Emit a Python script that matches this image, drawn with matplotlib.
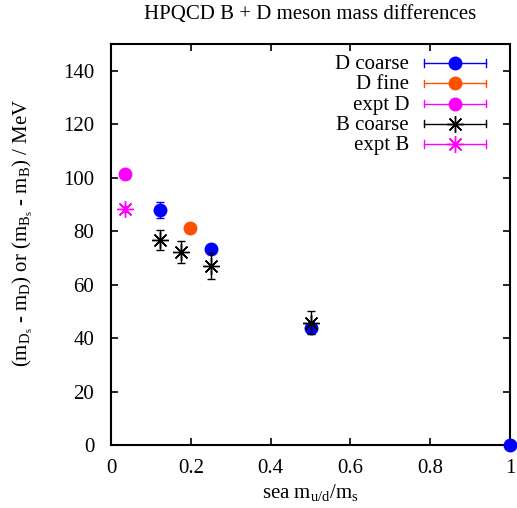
import matplotlib
matplotlib.use('Agg')
import matplotlib.pyplot as plt

plt.rcParams['font.family'] = ['Liberation Serif', 'DejaVu Serif']
plt.rcParams['mathtext.fontset'] = 'custom'
plt.rcParams['mathtext.rm'] = 'Liberation Serif'
plt.rcParams['mathtext.it'] = 'Liberation Serif:italic'

# data
d_coarse_x = [0.123, 0.25, 0.5, 1.0]
d_coarse_y = [88.0, 73.4, 43.8, 0.0]
d_coarse_err = [3.0, 1.2, 1.2, 0.0]

d_fine_x = [0.198]
d_fine_y = [81.2]
d_fine_err = [0.5]

expt_d_x = [0.035]
expt_d_y = [101.4]
expt_d_err = [0.3]

b_coarse_x = [0.123, 0.175, 0.25, 0.5]
b_coarse_y = [76.7, 72.3, 67.0, 45.7]
b_coarse_err = [3.7, 4.0, 4.7, 4.3]

expt_b_x = [0.035]
expt_b_y = [88.4]
expt_b_err = [1.2]

fig = plt.figure(figsize=(5.17, 5.08), dpi=100)
ax = fig.add_axes([0.2147, 0.124, 0.7718, 0.789])

star = (8, 2, 0)
FS = 15

series = [
    ('D coarse', d_coarse_x, d_coarse_y, d_coarse_err, '#0000ff', 'o'),
    ('D fine', d_fine_x, d_fine_y, d_fine_err, '#ff5000', 'o'),
    ('expt D', expt_d_x, expt_d_y, expt_d_err, '#ff00ff', 'o'),
    ('B coarse', b_coarse_x, b_coarse_y, b_coarse_err, 'black', star),
    ('expt B', expt_b_x, expt_b_y, expt_b_err, '#ff00ff', star),
]

for i, (name, x, y, err, col, mk) in enumerate(series):
    if mk == 'o':
        ms, mew = 9, 1
    else:
        ms, mew = 12, 1
    ax.errorbar(x, y, yerr=err, fmt='none', color=col, capsize=3, elinewidth=1,
                zorder=3 + i)
    ax.plot(x, y, ls='none', marker=mk, color=col, ms=ms, mew=mew, clip_on=False,
            zorder=3 + i)
    # legend entry, gnuplot style
    ly = 0.953 - 0.0505 * i
    ax.text(0.747, ly - 0.004, name, transform=ax.transAxes, ha='right', va='center',
            fontsize=FS)
    ax.plot([0.784, 0.940], [ly, ly], transform=ax.transAxes, color=col, lw=1, clip_on=False)
    ax.plot([0.784, 0.784], [ly - 0.009, ly + 0.009], transform=ax.transAxes, color=col, lw=1)
    ax.plot([0.940, 0.940], [ly - 0.009, ly + 0.009], transform=ax.transAxes, color=col, lw=1)
    ax.plot([0.862], [ly], transform=ax.transAxes, marker=mk, color=col, ms=ms, mew=mew)

ax.set_xlim(0, 1)
ax.set_ylim(0, 150)
ax.set_xticks([0, 0.2, 0.4, 0.6, 0.8, 1])
ax.set_xticklabels(['0', '0.2', '0.4', '0.6', '0.8', '1'])
ax.set_yticks(range(0, 141, 20))
ax.tick_params(direction='in', top=True, right=True, length=5, width=1.2, labelsize=FS)
ax.tick_params(axis='x', pad=10)
ax.tick_params(axis='y', pad=12)
for s in ax.spines.values():
    s.set_linewidth(1.5)

ax.set_xlabel(r'sea m$_{\mathrm{u/d}}$/m$_\mathrm{s}$', fontsize=FS, labelpad=3)
ax.set_ylabel(r'(m$_{\mathrm{D_s}}$ - m$_\mathrm{D}$) or (m$_{\mathrm{B_s}}$ - m$_\mathrm{B}$) / MeV',
              fontsize=FS)
ax.yaxis.set_label_coords(-0.19, 0.53)
fig.text(0.6, 0.972, 'HPQCD B + D meson mass differences', fontsize=FS,
         ha='center', va='center')

fig.savefig('out.png', dpi=100)
